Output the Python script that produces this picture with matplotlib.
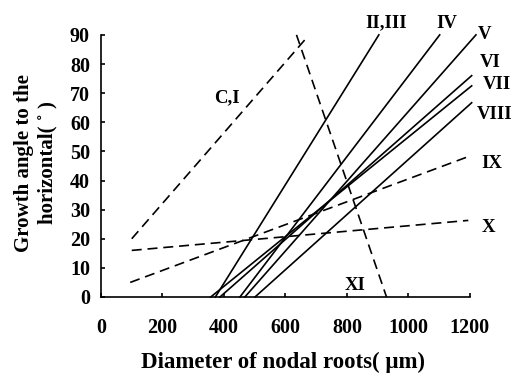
import matplotlib
matplotlib.use('Agg')
from matplotlib import pyplot as plt

plt.rcParams['font.family'] = ['Liberation Serif', 'DejaVu Serif']
plt.rcParams['font.weight'] = 'bold'

# Regression lines: start and end points.
names = ['C,I', 'II,III', 'IV', 'V', 'VI', 'VII', 'VIII', 'IX', 'X', 'XI']
x_start = [100, 372, 452, 468, 387, 357, 501, 95, 100, 636]
y_start = [20, 0, 0, 0, 0, 0, 0, 5, 16, 90]
x_end = [669, 904, 1102, 1220, 1206, 1206, 1206, 1205, 1195, 929]
y_end = [89, 90, 90, 90, 76, 72.5, 66.7, 48.6, 26.3, 0]
dashed = [True, False, False, False, False, False, False, True, True, True]

# Label positions
label_x = [409, 929, 1124, 1249, 1265, 1287, 1281, 1270, 1260, 826]
label_y = [68.5, 94, 94, 90.3, 80.6, 72.8, 62.8, 46, 23.7, 3.8]

x_ticks = [0, 200, 400, 600, 800, 1000, 1200]
y_ticks = [0, 10, 20, 30, 40, 50, 60, 70, 80, 90]

fig = plt.figure(figsize=(5.18, 3.75), dpi=100)
ax = fig.add_axes([0.195, 0.208, 0.712, 0.699])

for i in range(len(names)):
    ls = (0, (6, 3.5)) if dashed[i] else '-'
    ax.plot([x_start[i], x_end[i]], [y_start[i], y_end[i]], color='black',
            lw=1.2, linestyle=ls, clip_on=False)
    ax.text(label_x[i], label_y[i], names[i], fontsize=13.5, fontweight='bold',
            ha='center', va='center')

ax.set_xlim(0, 1200)
ax.set_ylim(0, 90)
ax.set_xticks(x_ticks)
ax.set_yticks(y_ticks)
ax.spines['top'].set_visible(False)
ax.spines['right'].set_visible(False)
ax.spines['left'].set_linewidth(1.2)
ax.spines['bottom'].set_linewidth(1.2)
ax.tick_params(direction='in', length=3, width=1.2, labelsize=14.5)
ax.tick_params(axis='x', pad=15)
ax.tick_params(axis='y', pad=8)

fig.text(283 / 518, 1 - 362 / 375, 'Diameter of nodal roots( \u03bcm)',
         fontsize=16.5, fontweight='bold', ha='center', va='center')
fig.text(35.5 / 518, 1 - 163 / 375, 'Growth angle to the\nhorizontal( \u02da )',
         fontsize=15, fontweight='bold', ha='center', va='center',
         rotation=90, multialignment='center', linespacing=1.2)

fig.savefig('out.png', dpi=100)
